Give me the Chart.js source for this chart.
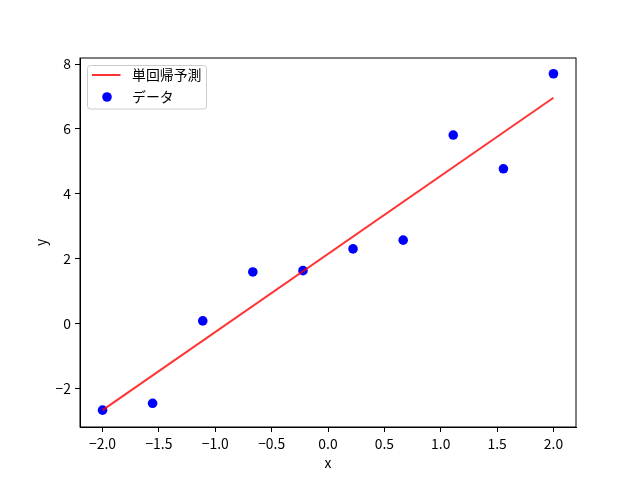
<!DOCTYPE html>
<html>
<head>
<meta charset="utf-8">
<script src="https://cdn.jsdelivr.net/npm/chart.js@4/dist/chart.umd.min.js"></script>
<style>
  html, body { margin: 0; padding: 0; background: #fff; }
  #wrap { width: 640px; height: 480px; }
</style>
</head>
<body>
<div id="wrap"><canvas id="chart" width="640" height="480"></canvas></div>
<script>
// ---- data ----
const xValues = [-2.0, -1.556, -1.111, -0.667, -0.222, 0.222, 0.667, 1.111, 1.556, 2.0];
const yValues = [-2.67, -2.46, 0.08, 1.59, 1.63, 2.30, 2.57, 5.81, 4.77, 7.70];
const lineX = [-2.0, 2.0];
const lineY = [-2.67, 6.96];
const xTicks = [-2.0, -1.5, -1.0, -0.5, 0.0, 0.5, 1.0, 1.5, 2.0];
const yTicks = [-2, 0, 2, 4, 6, 8];
const seriesLabels = ['単回帰予測', 'データ'];

const FONT = '"Noto Sans CJK JP", "DejaVu Sans"';
const FS = 13.9;
const LINE_COLOR = 'rgba(255,0,0,0.8)';
const DOT_COLOR = '#0000ff';

function fmt(v, digits) {
    return v.toFixed(digits).replace('-', '\u2212');
}

// frame on top/right + legend inside the axes (matplotlib style)
const framePlugin = {
    id: 'frameAndLegend',
    afterDatasetsDraw(chart) {
        const { ctx, chartArea: a } = chart;
        ctx.save();
        ctx.strokeStyle = '#000';
        ctx.lineWidth = 1;
        ctx.strokeRect(a.left, a.top, a.right - a.left, a.bottom - a.top);

        // legend box
        const bx = a.left + 7.5, by = a.top + 7.5, bw = 119, bh = 43.5;
        ctx.beginPath();
        ctx.roundRect(bx, by, bw, bh, 3);
        ctx.fillStyle = 'rgba(255,255,255,0.8)';
        ctx.fill();
        ctx.strokeStyle = '#cccccc';
        ctx.stroke();

        // line entry
        ctx.strokeStyle = LINE_COLOR;
        ctx.lineWidth = 2;
        ctx.beginPath();
        ctx.moveTo(bx + 4.5, by + 9.5);
        ctx.lineTo(bx + 33, by + 9.5);
        ctx.stroke();

        // scatter entry
        ctx.fillStyle = DOT_COLOR;
        ctx.beginPath();
        ctx.arc(bx + 19.5, by + 31.5, 4.8, 0, Math.PI * 2);
        ctx.fill();

        ctx.fillStyle = '#000';
        ctx.font = FS + 'px ' + FONT;
        ctx.textBaseline = 'middle';
        ctx.fillText(seriesLabels[0], bx + 44.5, by + 9.5);
        ctx.fillText(seriesLabels[1], bx + 44.5, by + 31.5);
        ctx.restore();
    }
};

new Chart(document.getElementById('chart'), {
    type: 'scatter',
    data: {
        datasets: [
            {
                type: 'line',
                label: seriesLabels[0],
                data: lineX.map((x, i) => ({ x: x, y: lineY[i] })),
                borderColor: LINE_COLOR,
                borderWidth: 2,
                pointRadius: 0,
                fill: false,
                order: 0
            },
            {
                label: seriesLabels[1],
                data: xValues.map((x, i) => ({ x: x, y: yValues[i] })),
                backgroundColor: DOT_COLOR,
                borderColor: DOT_COLOR,
                pointRadius: 4.8,
                pointBorderWidth: 0,
                order: 1
            }
        ]
    },
    options: {
        responsive: false,
        animation: false,
        layout: { padding: { left: 0, top: 58, right: 64, bottom: 0 } },
        plugins: {
            legend: { display: false },
            tooltip: { enabled: false }
        },
        scales: {
            x: {
                type: 'linear',
                min: -2.2,
                max: 2.2,
                afterFit(scale) { scale.height = 53; },
                afterBuildTicks(scale) { scale.ticks = xTicks.map(v => ({ value: v })); },
                border: { display: true, color: '#000', width: 1 },
                grid: { drawOnChartArea: false, tickLength: 5, color: '#000' },
                ticks: {
                    color: '#000',
                    padding: 3,
                    maxRotation: 0,
                    font: { family: FONT, size: FS },
                    callback: v => fmt(v, 1)
                },
                title: {
                    display: true,
                    text: 'x',
                    color: '#000',
                    font: { family: FONT, size: FS },
                    padding: { top: 0, bottom: 9 }
                }
            },
            y: {
                type: 'linear',
                min: -3.19,
                max: 8.185,
                afterFit(scale) { scale.width = 80; },
                afterBuildTicks(scale) { scale.ticks = yTicks.map(v => ({ value: v })); },
                border: { display: true, color: '#000', width: 1 },
                grid: { drawOnChartArea: false, tickLength: 5, color: '#000' },
                ticks: {
                    color: '#000',
                    padding: 4,
                    font: { family: FONT, size: FS },
                    callback: v => fmt(v, 0)
                },
                title: {
                    display: true,
                    text: 'y',
                    color: '#000',
                    font: { family: FONT, size: FS },
                    padding: { top: 32, bottom: 0 }
                }
            }
        }
    },
    plugins: [framePlugin]
});
</script>
</body>
</html>
